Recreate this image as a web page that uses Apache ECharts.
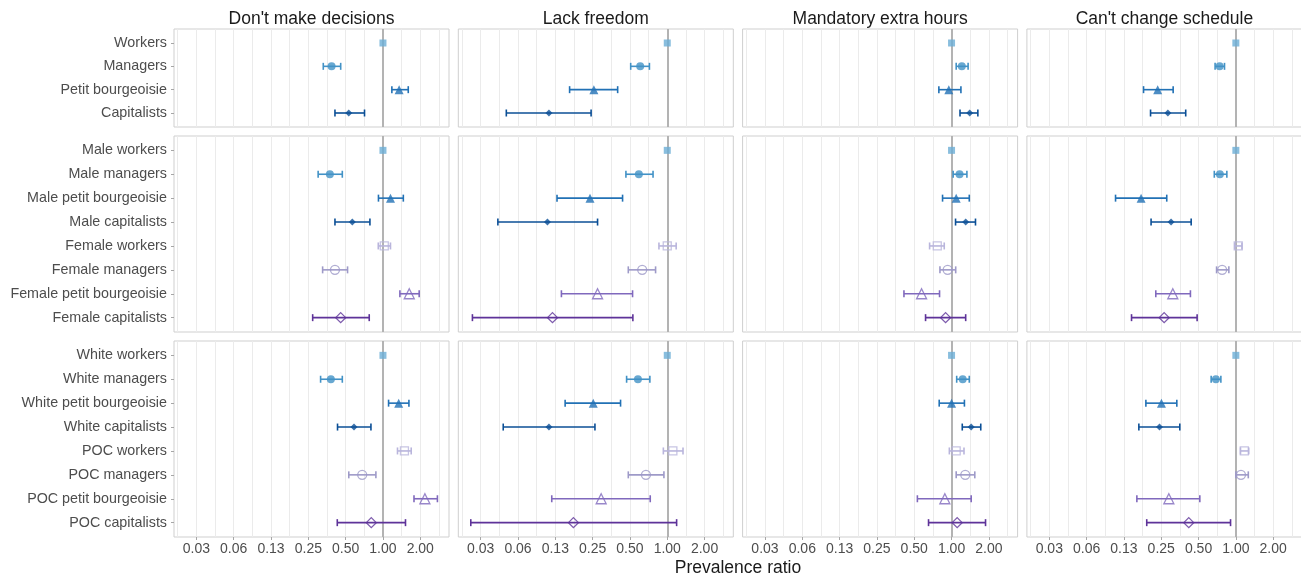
<!DOCTYPE html>
<html><head><meta charset="utf-8">
<script src="https://cdn.jsdelivr.net/npm/echarts@6/dist/echarts.min.js"></script>
<style>html,body{margin:0;padding:0;background:#fff}#c{width:1301px;height:578px}</style>
</head><body><div id="c"></div>
<script>
// ---------- categories / labels ----------
const facetTitles = ["Don't make decisions", "Lack freedom", "Mandatory extra hours", "Can't change schedule"];
const classCats  = ["Workers", "Managers", "Petit bourgeoisie", "Capitalists"];
const genderCats = ["Male workers", "Male managers", "Male petit bourgeoisie", "Male capitalists",
                    "Female workers", "Female managers", "Female petit bourgeoisie", "Female capitalists"];
const raceCats   = ["White workers", "White managers", "White petit bourgeoisie", "White capitalists",
                    "POC workers", "POC managers", "POC petit bourgeoisie", "POC capitalists"];
const xTickValues = [0.03125, 0.0625, 0.125, 0.25, 0.5, 1, 2];
const xTickLabels = ["0.03", "0.06", "0.13", "0.25", "0.50", "1.00", "2.00"];
const axisTitle = "Prevalence ratio";

// ---------- values (order: 4 class, 8 gender, 8 race) ----------
const decisionsEst = [1, 0.385, 1.35, 0.53,   1, 0.373, 1.15, 0.566, 1.025, 0.41, 1.63, 0.456,   1, 0.38, 1.34, 0.584, 1.49, 0.68, 2.18, 0.805];
const decisionsLo  = [null, 0.33, 1.18, 0.41, null, 0.30, 0.92, 0.41, 0.917, 0.326, 1.37, 0.271, null, 0.314, 1.11, 0.43, 1.31, 0.53, 1.78, 0.428];
const decisionsHi  = [null, 0.456, 1.6, 0.71, null, 0.47, 1.46, 0.785, 1.15, 0.518, 1.96, 0.775, null, 0.47, 1.62, 0.80, 1.69, 0.877, 2.75, 1.52];

const freedomEst = [1, 0.605, 0.256, 0.111,   1, 0.59, 0.238, 0.108, 1.0, 0.628, 0.274, 0.1186,   1, 0.58, 0.253, 0.111, 1.11, 0.673, 0.293, 0.175];
const freedomLo  = [null, 0.507, 0.163, 0.0503, null, 0.464, 0.129, 0.043, 0.857, 0.485, 0.14, 0.0268, null, 0.47, 0.15, 0.0475, 0.93, 0.485, 0.117, 0.026];
const freedomHi  = [null, 0.718, 0.398, 0.243, null, 0.768, 0.436, 0.274, 1.18, 0.805, 0.525, 0.528, null, 0.724, 0.42, 0.261, 1.34, 0.94, 0.729, 1.19];

const hoursEst = [1, 1.21, 0.95, 1.4,   1, 1.16, 1.09, 1.3, 0.767, 0.93, 0.573, 0.895,   1, 1.23, 1.0, 1.44, 1.09, 1.29, 0.883, 1.11];
const hoursLo  = [null, 1.09, 0.79, 1.17, null, 1.03, 0.846, 1.077, 0.665, 0.806, 0.413, 0.617, null, 1.1, 0.795, 1.22, 0.96, 1.09, 0.53, 0.652];
const hoursHi  = [null, 1.36, 1.19, 1.63, null, 1.33, 1.39, 1.56, 0.873, 1.08, 0.80, 1.3, null, 1.39, 1.27, 1.72, 1.26, 1.54, 1.44, 1.88];

const scheduleEst = [1, 0.74, 0.234, 0.283,   1, 0.743, 0.172, 0.30, 1.045, 0.775, 0.31, 0.264,   1, 0.69, 0.251, 0.242, 1.17, 1.10, 0.288, 0.417];
const scheduleLo  = [null, 0.68, 0.18, 0.205, null, 0.67, 0.107, 0.207, 0.98, 0.699, 0.226, 0.144, null, 0.632, 0.188, 0.165, 1.09, 1.0, 0.159, 0.191];
const scheduleHi  = [null, 0.81, 0.312, 0.394, null, 0.846, 0.277, 0.436, 1.12, 0.878, 0.43, 0.487, null, 0.757, 0.334, 0.353, 1.27, 1.26, 0.512, 0.906];

// ---------- styling ----------
const blues   = ['#6baed6', '#4292c6', '#2171b5', '#0b4f96'];
const purples = ['#b9b5dc', '#9e9ac8', '#8069bd', '#5e3399'];
const shapes  = ['rect', 'circle', 'triangle', 'diamond'];
const filledSizes = [7, 8, 9, 7];
const hollowSizes = [8, 9, 10, 10];

const facetData = [
  [decisionsEst, decisionsLo, decisionsHi],
  [freedomEst, freedomLo, freedomHi],
  [hoursEst, hoursLo, hoursHi],
  [scheduleEst, scheduleLo, scheduleHi]
];
const rowsDef = [
  { cats: classCats, offset: 0 },
  { cats: genderCats, offset: 4 },
  { cats: raceCats, offset: 12 }
];

const colLeft = [174, 458.3, 742.6, 1026.9];
const colWidth = 275;
const rowTop = [29, 136, 341];
const rowHeight = [98, 196, 196];
const XMIN = -5.6, XMAX = 1.77;
const FONT = "'Liberation Sans', Arial, Helvetica, sans-serif";

const grids = [], xAxes = [], yAxes = [], series = [], graphics = [];
const log2 = v => Math.log(v) / Math.LN2;
const majorLog = xTickValues.map(log2);
const halves = [];
for (let v = -5.5; v <= 1.5001; v += 0.5) halves.push(Math.round(v * 10) / 10);

let g = 0;
for (let r = 0; r < 3; r++) {
  const cats = rowsDef[r].cats, n = cats.length, off = rowsDef[r].offset;
  for (let c = 0; c < 4; c++) {
    grids.push({
      left: colLeft[c], top: rowTop[r], width: colWidth, height: rowHeight[r],
      show: true, borderColor: '#cfcfcf', borderWidth: 1, backgroundColor: '#fff',
      containLabel: false, outerBoundsMode: 'none'
    });
    const xa = xAxes.length;
    xAxes.push({
      type: 'value', gridIndex: g, min: XMIN, max: XMAX, minInterval: 0.5, maxInterval: 0.5,
      axisLine: { show: false, onZero: false }, axisTick: { show: false, customValues: halves },
      axisLabel: { show: false },
      splitLine: { show: true, lineStyle: { color: '#ebebeb', width: 1 } }
    });
    xAxes.push({
      type: 'value', gridIndex: g, min: XMIN, max: XMAX, minInterval: 1, maxInterval: 1,
      position: 'bottom',
      axisLine: { show: false, onZero: false },
      axisTick: { show: r === 2, customValues: majorLog, length: 3, lineStyle: { color: '#a6a6a6' } },
      axisLabel: {
        show: r === 2, customValues: majorLog, margin: 5, color: '#4d4d4d', fontSize: 14, fontFamily: FONT,
        formatter: v => { const i = majorLog.findIndex(t => Math.abs(t - v) < 1e-6); return i >= 0 ? xTickLabels[i] : ''; }
      },
      splitLine: { show: false }
    });
    const idx = cats.map((_, i) => i);
    yAxes.push({
      type: 'value', gridIndex: g, min: -0.6, max: n - 0.4, inverse: true, minInterval: 1, maxInterval: 1,
      position: 'left',
      axisLine: { show: false, onZero: false },
      axisTick: { show: c === 0, customValues: idx, length: 3, lineStyle: { color: '#a6a6a6' } },
      axisLabel: {
        show: c === 0, customValues: idx, margin: 7, color: '#4d4d4d', fontSize: 14.3, fontFamily: FONT,
        formatter: v => { const k = Math.round(v); return Math.abs(k - v) < 1e-6 && cats[k] ? cats[k] : ''; }
      },
      splitLine: { show: false }
    });
    const [est, lo, hi] = facetData[c];
    const barData = [], barColors = [], ptData = [];
    for (let i = 0; i < n; i++) {
      const k = off + i;
      const hollow = r > 0 && i >= 4;
      const si = i % 4;
      const color = hollow ? purples[si] : blues[si];
      if (lo[k] != null && hi[k] != null) {
        barData.push([log2(lo[k]), log2(hi[k]), i]);
        barColors.push(color);
      }
      ptData.push({
        value: [log2(est[k]), i],
        symbol: shapes[si],
        symbolSize: hollow ? hollowSizes[si] : filledSizes[si],
        itemStyle: hollow
          ? { color: 'rgba(255,255,255,0)', borderColor: color, borderWidth: 1.3 }
          : { color: color, borderWidth: 0 }
      });
    }
    series.push({
      type: 'custom', xAxisIndex: xa, yAxisIndex: g, z: 2, silent: true,
      encode: { x: [0, 1], y: 2 },
      data: barData,
      renderItem: (params, api) => {
        const p1 = api.coord([api.value(0), api.value(2)]);
        const p2 = api.coord([api.value(1), api.value(2)]);
        const h = 3.5, col = barColors[params.dataIndex];
        const st = { stroke: col, lineWidth: 1.6 };
        return { type: 'group', children: [
          { type: 'line', shape: { x1: p1[0], y1: p1[1], x2: p2[0], y2: p2[1] }, style: st },
          { type: 'line', shape: { x1: p1[0], y1: p1[1] - h, x2: p1[0], y2: p1[1] + h }, style: st },
          { type: 'line', shape: { x1: p2[0], y1: p2[1] - h, x2: p2[0], y2: p2[1] + h }, style: st }
        ]};
      }
    });
    series.push({
      type: 'scatter', xAxisIndex: xa, yAxisIndex: g, z: 3, silent: true,
      data: ptData,
      markLine: {
        silent: true, symbol: ['none', 'none'], z: 1,
        label: { show: false }, emphasis: { disabled: true },
        lineStyle: { color: '#b3b3b3', width: 2, type: 'solid' },
        data: [{ xAxis: log2(1) }]
      }
    });
    g++;
  }
}

for (let c = 0; c < 4; c++) {
  graphics.push({
    type: 'text', x: colLeft[c] + colWidth / 2, y: 19,
    style: { text: facetTitles[c], fill: '#1a1a1a', font: `17.5px ${FONT}`, align: 'center', verticalAlign: 'middle', textAlign: 'center', textVerticalAlign: 'middle' }
  });
}
graphics.push({
  type: 'text', x: (colLeft[0] + colLeft[3] + colWidth) / 2, y: 568,
  style: { text: axisTitle, fill: '#1a1a1a', font: `17.5px ${FONT}`, align: 'center', verticalAlign: 'middle', textAlign: 'center', textVerticalAlign: 'middle' }
});

const chart = echarts.init(document.getElementById('c'), null, { renderer: 'canvas' });
chart.setOption({
  animation: false,
  backgroundColor: '#ffffff',
  grid: grids, xAxis: xAxes, yAxis: yAxes, series: series, graphic: graphics
});
</script>
</body></html>
